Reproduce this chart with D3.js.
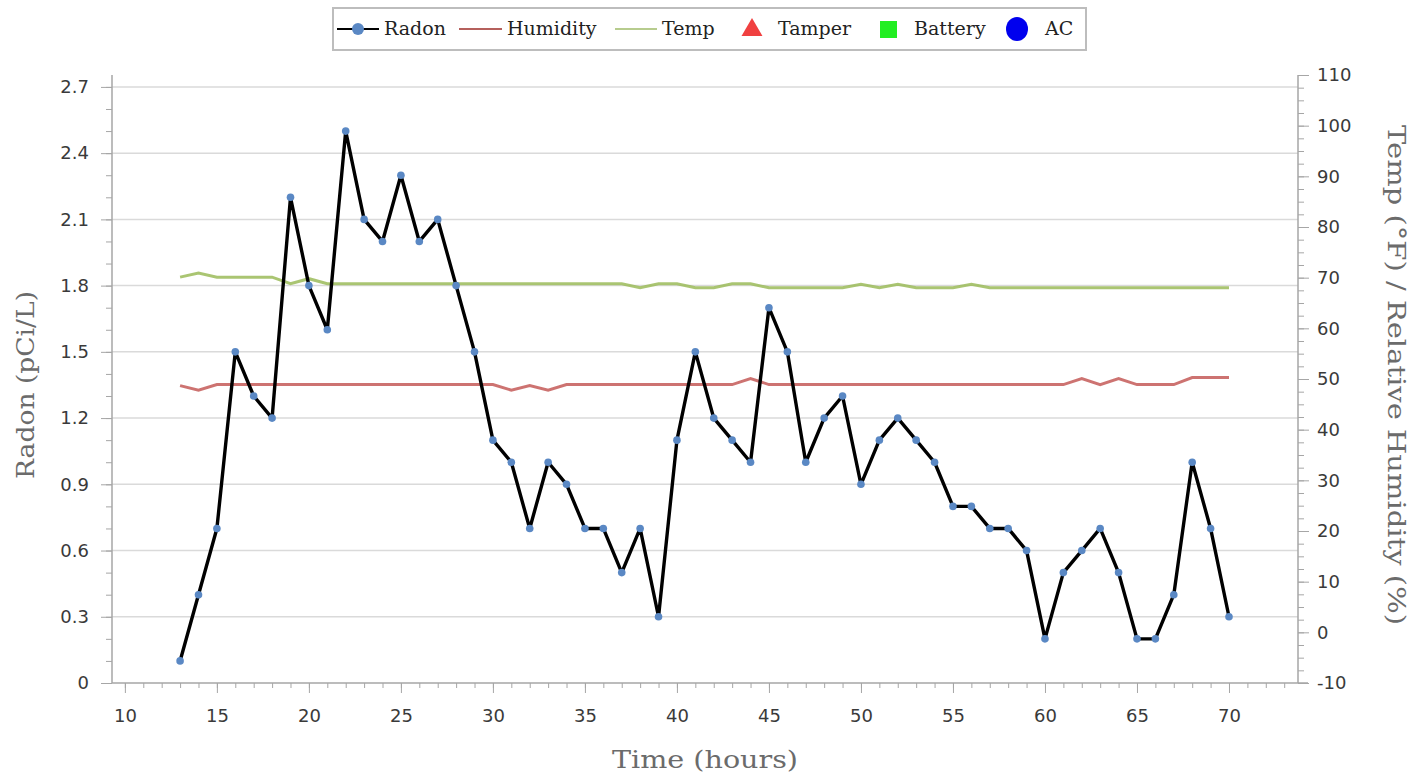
<!DOCTYPE html>
<html>
<head>
<meta charset="utf-8">
<script src="https://cdn.jsdelivr.net/npm/d3@7"></script>
<style>
  body { margin: 0; background: #fff; }
  .tick text { font-family: "DejaVu Sans", Verdana, sans-serif; font-size: 18px; fill: #3a3a3a; }
  .axis path, .axis line { stroke: #a6a6a6; }
  .title { font-family: "DejaVu Serif", Georgia, serif; fill: #6b6b6b; }
  .legend text { font-family: "DejaVu Serif", Georgia, serif; font-size: 19px; fill: #222; }
</style>
</head>
<body>
<div id="chart"></div>
<script>
// --- datos ---
const hours = d3.range(13, 71);
const radon = [0.1, 0.4, 0.7, 1.5, 1.3, 1.2, 2.2, 1.8, 1.6, 2.5,
               2.1, 2.0, 2.3, 2.0, 2.1, 1.8, 1.5, 1.1, 1.0, 0.7,
               1.0, 0.9, 0.7, 0.7, 0.5, 0.7, 0.3, 1.1, 1.5, 1.2,
               1.1, 1.0, 1.7, 1.5, 1.0, 1.2, 1.3, 0.9, 1.1, 1.2,
               1.1, 1.0, 0.8, 0.8, 0.7, 0.7, 0.6, 0.2, 0.5, 0.6,
               0.7, 0.5, 0.2, 0.2, 0.4, 1.0, 0.7, 0.3];
const humidity = [48.7, 47.8, 48.9, 48.9, 48.9, 48.9, 48.9, 48.9, 48.9, 48.9,
                  48.9, 48.9, 48.9, 48.9, 48.9, 48.9, 48.9, 48.9, 47.8, 48.7,
                  47.8, 48.9, 48.9, 48.9, 48.9, 48.9, 48.9, 48.9, 48.9, 48.9,
                  48.9, 50.1, 48.9, 48.9, 48.9, 48.9, 48.9, 48.9, 48.9, 48.9,
                  48.9, 48.9, 48.9, 48.9, 48.9, 48.9, 48.9, 48.9, 48.9, 50.1,
                  48.9, 50.1, 48.9, 48.9, 48.9, 50.3, 50.3, 50.3];
const temp = [70.1, 70.9, 70.1, 70.1, 70.1, 70.1, 68.8, 69.8, 68.8, 68.8,
              68.8, 68.8, 68.8, 68.8, 68.8, 68.8, 68.8, 68.8, 68.8, 68.8,
              68.8, 68.8, 68.8, 68.8, 68.8, 68.0, 68.8, 68.8, 68.0, 68.0,
              68.8, 68.8, 68.0, 68.0, 68.0, 68.0, 68.0, 68.7, 68.0, 68.7,
              68.0, 68.0, 68.0, 68.7, 68.0, 68.0, 68.0, 68.0, 68.0, 68.0,
              68.0, 68.0, 68.0, 68.0, 68.0, 68.0, 68.0, 68.0];
const radonTicks = [0, 0.3, 0.6, 0.9, 1.2, 1.5, 1.8, 2.1, 2.4, 2.7];
const rightTicks = d3.range(-10, 111, 10);
const timeTicks = d3.range(10, 71, 5);
const legendItems = ["Radon", "Humidity", "Temp", "Tamper", "Battery", "AC"];

// --- lienzo ---
const W = 1418, H = 774;
const plot = {left: 112, right: 1298, top: 75, bottom: 683};

const svg = d3.select("#chart").append("svg")
  .attr("width", W).attr("height", H);

// --- escalas ---
const x = d3.scaleLinear().domain([9.3, 73.75]).range([plot.left, plot.right]);
const yL = d3.scaleLinear().domain([0, 2.754]).range([plot.bottom, plot.top]);
const yR = d3.scaleLinear().domain([-10, 110]).range([plot.bottom, plot.top]);

// lineas de cuadricula
svg.append("g")
  .selectAll("line")
  .data(radonTicks.filter(d => d > 0))
  .enter().append("line")
    .attr("x1", plot.left).attr("x2", plot.right)
    .attr("y1", d => yL(d)).attr("y2", d => yL(d))
    .attr("stroke", "#dadada").attr("stroke-width", 1.5);

// --- ejes: ticks menores primero ---
svg.append("g").attr("class", "axis")
  .attr("transform", `translate(${plot.left},0)`)
  .call(d3.axisLeft(yL).tickValues(d3.range(0, 2.75, 0.1)).tickSize(6).tickFormat(""))
  .select(".domain").remove();
svg.append("g").attr("class", "axis")
  .attr("transform", `translate(${plot.left},0)`)
  .call(d3.axisLeft(yL).tickValues(radonTicks).tickSize(11).tickPadding(12)
    .tickFormat(d => d === 0 ? "0" : d.toFixed(1)))
  .call(g => g.select(".domain").attr("d", `M0,${plot.top}V${plot.bottom}`).attr("stroke-width", 1.5));

svg.append("g").attr("class", "axis")
  .attr("transform", `translate(${plot.right},0)`)
  .call(d3.axisRight(yR).tickValues(d3.range(-10, 110.1, 2.5)).tickSize(6).tickFormat(""))
  .select(".domain").remove();
svg.append("g").attr("class", "axis")
  .attr("transform", `translate(${plot.right},0)`)
  .call(d3.axisRight(yR).tickValues(rightTicks).tickSize(11).tickPadding(8)
    .tickFormat(d => String(d)))
  .call(g => g.select(".domain").attr("d", `M0,${plot.top}V${plot.bottom}`).attr("stroke-width", 1.5));

svg.append("g").attr("class", "axis")
  .attr("transform", `translate(0,${plot.bottom})`)
  .call(d3.axisBottom(x).tickValues(d3.range(10, 74, 1)).tickSize(5).tickFormat(""))
  .select(".domain").remove();
svg.append("g").attr("class", "axis")
  .attr("transform", `translate(0,${plot.bottom})`)
  .call(d3.axisBottom(x).tickValues(timeTicks).tickSize(10).tickPadding(16))
  .call(g => g.select(".domain").attr("d", `M${plot.left},0H${plot.right + 10}`).attr("stroke-width", 1.5));

// --- titulos de ejes ---
svg.append("text").attr("class", "title")
  .attr("transform", `translate(34,${(plot.top + plot.bottom) / 2 + 6}) rotate(-90)`)
  .attr("text-anchor", "middle").style("font-size", "25px")
  .attr("textLength", 188).attr("lengthAdjust", "spacingAndGlyphs")
  .text("Radon (pCi/L)");

svg.append("text").attr("class", "title")
  .attr("transform", `translate(1388,${375}) rotate(90)`)
  .attr("text-anchor", "middle").style("font-size", "25px")
  .attr("textLength", 500).attr("lengthAdjust", "spacingAndGlyphs")
  .text("Temp (°F) / Relative Humidity (%)");

svg.append("text").attr("class", "title")
  .attr("x", 705).attr("y", 768)
  .attr("text-anchor", "middle").style("font-size", "25px")
  .attr("textLength", 186).attr("lengthAdjust", "spacingAndGlyphs")
  .text("Time (hours)");

// --- series ---
const pts = arr => hours.map((h, i) => [h, arr[i]]);

svg.append("path")
  .datum(pts(humidity))
  .attr("fill", "none").attr("stroke", "#c0504d").attr("stroke-width", 3).attr("stroke-opacity", 0.8)
  .attr("d", d3.line().x(d => x(d[0])).y(d => yR(d[1])));

svg.append("path")
  .datum(pts(temp))
  .attr("fill", "none").attr("stroke", "#9bbb59").attr("stroke-width", 3).attr("stroke-opacity", 0.85)
  .attr("d", d3.line().x(d => x(d[0])).y(d => yR(d[1])));

svg.append("path")
  .datum(pts(radon))
  .attr("fill", "none").attr("stroke", "#000").attr("stroke-width", 3.4)
  .attr("stroke-linejoin", "round")
  .attr("d", d3.line().x(d => x(d[0])).y(d => yL(d[1])));

svg.append("g")
  .selectAll("circle")
  .data(pts(radon))
  .enter().append("circle")
    .attr("cx", d => x(d[0])).attr("cy", d => yL(d[1]))
    .attr("r", 3.8).attr("fill", "#5a88c4");

// --- leyenda ---
const legend = svg.append("g").attr("class", "legend");
legend.append("rect")
  .attr("x", 333).attr("y", 8).attr("width", 753).attr("height", 42)
  .attr("fill", "#fff").attr("stroke", "#bdbdbd").attr("stroke-width", 2);

const ly = 29;
const textX = [384, 507, 662, 778, 914, 1045];
// Radon
legend.append("line").attr("x1", 337).attr("x2", 379).attr("y1", ly).attr("y2", ly)
  .attr("stroke", "#000").attr("stroke-width", 2);
legend.append("circle").attr("cx", 358).attr("cy", ly).attr("r", 6).attr("fill", "#5a88c4");
// Humidity
legend.append("line").attr("x1", 459).attr("x2", 502).attr("y1", ly).attr("y2", ly)
  .attr("stroke", "#b5605c").attr("stroke-width", 2);
// Temp
legend.append("line").attr("x1", 615).attr("x2", 657).attr("y1", ly).attr("y2", ly)
  .attr("stroke", "#b7cc8e").attr("stroke-width", 2);
// Tamper
legend.append("path").attr("d", d3.symbol(d3.symbolTriangle, 190)())
  .attr("transform", `translate(752,${ly + 1})`).attr("fill", "#f04040");
// Battery
legend.append("rect").attr("x", 880).attr("y", ly - 8).attr("width", 17).attr("height", 17)
  .attr("fill", "#22ee22");
// AC
legend.append("ellipse").attr("cx", 1017).attr("cy", ly).attr("rx", 11).attr("ry", 12)
  .attr("fill", "#0000ee");

legend.selectAll("text.lbl")
  .data(legendItems)
  .enter().append("text")
    .attr("class", "lbl")
    .attr("x", (d, i) => textX[i]).attr("y", ly + 6)
    .text(d => d);
</script>
</body>
</html>
